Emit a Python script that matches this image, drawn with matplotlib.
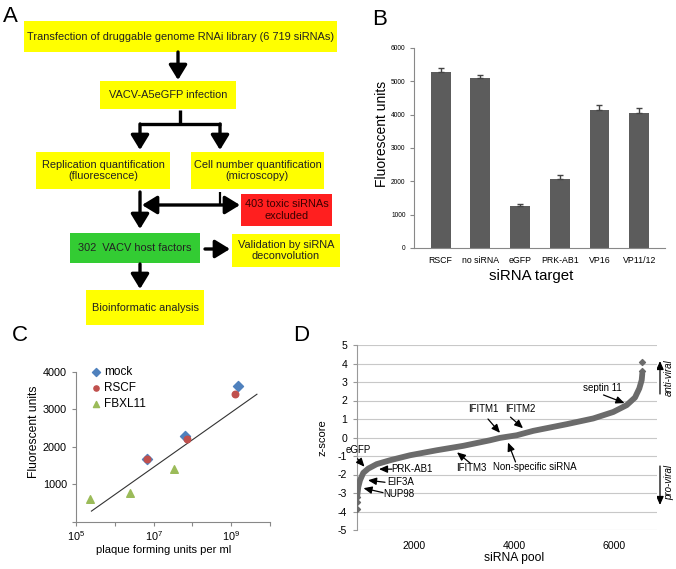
import numpy as np
import matplotlib
matplotlib.use('Agg')
import matplotlib.pyplot as plt
from matplotlib.patches import Rectangle

plt.rcParams['font.family'] = ['Liberation Sans', 'DejaVu Sans']
plt.rcParams['mathtext.fontset'] = 'custom'
plt.rcParams['mathtext.rm'] = 'Liberation Sans'
plt.rcParams['mathtext.it'] = 'Liberation Sans:italic'
plt.rcParams['axes.unicode_minus'] = False

# ---- panel B data ----
b_targets = ['RSCF', 'no siRNA', 'eGFP', 'PRK-AB1', 'VP16', 'VP11/12']
b_values = [5270, 5090, 1260, 2080, 4130, 4040]
b_errors = [140, 110, 70, 120, 150, 150]

# ---- panel C data ----
c_mock_pfu = [6.6e6, 6.6e7, 1.5e9]
c_mock_fu = [1670, 2280, 3610]
c_rscf_pfu = [6.6e6, 7.2e7, 1.25e9]
c_rscf_fu = [1680, 2200, 3400]
c_fbxl_pfu = [2.3e5, 2.45e6, 3.3e7]
c_fbxl_fu = [600, 760, 1420]
c_trend_pfu = [2.5e5, 4.6e9]
c_trend_fu = [290, 3400]

# ---- panel D data ----
d_pool = [866, 886, 920, 986, 1086, 1254, 1520, 1920, 2454, 2986, 3520, 3720,
          4054, 4386, 5054, 5586, 5986, 6254, 6420, 6506, 6554, 6566]
d_z = [-3.12, -2.67, -2.31, -1.91, -1.68, -1.44, -1.23, -0.96, -0.69, -0.45,
       -0.15, -0.02, 0.12, 0.36, 0.72, 1.03, 1.38, 1.75, 2.16, 2.65, 3.1, 3.46]
d_out_pool = [866, 866, 866, 6566, 6566]
d_out_z = [-3.22, -3.46, -3.84, 3.62, 4.06]

fig = plt.figure(figsize=(6.76, 5.69), dpi=100)

# ---- panel A: flow chart in pixel coordinates ----
axA = fig.add_axes([0, 0, 1, 1])
axA.set_xlim(0, 676)
axA.set_ylim(569, 0)
axA.axis('off')

YEL, RED, GRN = '#ffff00', '#ff1f1f', '#33cc33'
boxes = [
    (24, 21, 313, 31, YEL, 'Transfection of druggable genome RNAi library (6 719 siRNAs)'),
    (100, 81, 136, 28, YEL, 'VACV-A5eGFP infection'),
    (36, 152, 134, 37, YEL, 'Replication quantification\n(fluorescence)'),
    (191, 152, 133, 37, YEL, 'Cell number quantification\n(microscopy)'),
    (241, 194, 91, 32, RED, '403 toxic siRNAs\nexcluded'),
    (70, 233, 130, 30, GRN, '302  VACV host factors'),
    (232, 234, 108, 33, YEL, 'Validation by siRNA\ndeconvolution'),
    (86, 290, 118, 35, YEL, 'Bioinformatic analysis'),
]
for x, y, w, h, col, txt in boxes:
    axA.add_patch(Rectangle((x, y), w, h, facecolor=col, edgecolor='none'))
    tc = '#222222' if col != RED else '#3a0000'
    axA.text(x + w / 2, y + h / 2, txt, ha='center', va='center', fontsize=7.9,
             color=tc, linespacing=1.2)

arrow = dict(arrowstyle='-|>,head_length=0.9,head_width=0.55', lw=2.4,
             color='black', shrinkA=0, shrinkB=0)
darrow = dict(arrowstyle='<|-|>,head_length=0.9,head_width=0.55', lw=2.4,
              color='black', shrinkA=0, shrinkB=0)
for (x0, y0), (x1, y1) in [((178, 52), (178, 80)), ((140, 124), (140, 150)),
                           ((220, 124), (220, 150)), ((140, 192), (140, 229)),
                           ((205, 249), (230, 249)), ((140, 264), (140, 289))]:
    axA.annotate('', xy=(x1, y1), xytext=(x0, y0), arrowprops=arrow)
axA.annotate('', xy=(240, 205), xytext=(142, 205), arrowprops=darrow)
axA.plot([180, 180], [110, 124], color='black', lw=2.4, solid_capstyle='butt')
axA.plot([139, 221], [124, 124], color='black', lw=2.4, solid_capstyle='butt')
axA.plot([220, 220], [192, 205], color='black', lw=1.6, solid_capstyle='butt')

for lbl, (x, y) in zip('ABCD', [(3, 6), (372, 9), (12, 325), (293, 325)]):
    axA.text(x, y, lbl, fontsize=16, ha='left', va='top')

# ---- panel B: bars ----
axB = fig.add_axes([414 / 676, 1 - 248 / 569, 251 / 676, 200 / 569])
xb = np.arange(len(b_targets))
axB.bar(xb, b_values, width=0.5, color='#5c5c5c',
        yerr=[np.zeros(len(b_errors)), b_errors],
        error_kw=dict(ecolor='#444444', elinewidth=1, capsize=2.5, capthick=1))
axB.set_xlim(-0.67, 5.65)
axB.set_ylim(0, 6000)
axB.set_yticks(range(0, 6001, 1000))
axB.set_xticks(xb)
axB.set_xticklabels(b_targets, fontsize=6.3)
axB.tick_params(axis='y', labelsize=4.8, length=3, color='#888888', pad=3)
axB.tick_params(axis='x', length=0, pad=6)
for s in ['top', 'right']:
    axB.spines[s].set_visible(False)
for s in ['left', 'bottom']:
    axB.spines[s].set_color('#888888')
axB.set_ylabel('Fluorescent units', fontsize=10)
axB.set_xlabel('siRNA target', fontsize=10.8)
axB.yaxis.set_label_coords(-0.1, 0.57)
axB.xaxis.set_label_coords(0.468, -0.105)

# ---- panel C: scatter, log x ----
axC = fig.add_axes([76 / 676, 1 - 522 / 569, 194 / 676, 150.3 / 569])
axC.set_xscale('log')
axC.plot(c_trend_pfu, c_trend_fu, color='#333333', lw=0.8)
axC.scatter(c_mock_pfu, c_mock_fu, marker='D', s=26, color='#4f81bd', label='mock', zorder=3)
axC.scatter(c_rscf_pfu, c_rscf_fu, marker='o', s=22, color='#c0504d', label='RSCF', zorder=3)
axC.scatter(c_fbxl_pfu, c_fbxl_fu, marker='^', s=30, color='#9bbb59', label='FBXL11', zorder=3)
axC.set_xlim(1e5, 1e10)
axC.set_ylim(0, 4000)
axC.set_xticks([1e5, 1e6, 1e7, 1e8, 1e9, 1e10])
axC.set_xticklabels([r'$10^5$', '', r'$10^7$', '', r'$10^9$', ''])
axC.minorticks_off()
axC.set_yticks([0, 1000, 2000, 3000, 4000])
axC.set_yticklabels(['', '1000', '2000', '3000', '4000'])
axC.tick_params(labelsize=7.8, length=3, color='#888888')
axC.tick_params(axis='x', pad=2)
for s in ['top', 'right']:
    axC.spines[s].set_visible(False)
for s in ['left', 'bottom']:
    axC.spines[s].set_color('#888888')
axC.set_ylabel('Fluorescent units', fontsize=8.7)
axC.set_xlabel('plaque forming units per ml', fontsize=8)
axC.yaxis.set_label_coords(-0.188, 0.6)
axC.xaxis.set_label_coords(0.454, -0.15)
axC.legend(loc='upper left', bbox_to_anchor=(0.04, 1.07), frameon=False,
           fontsize=8.5, handletextpad=0.1, labelspacing=0.35, borderaxespad=0,
           handlelength=1.2, markerscale=0.8)

# ---- panel D: ranked z-scores ----
axD = fig.add_axes([357 / 676, 1 - 530 / 569, 300 / 676, 185 / 569])
axD.plot(d_pool, d_z, color='#6b6b6b', lw=4.2, solid_capstyle='round', zorder=3)
axD.scatter(d_out_pool, d_out_z, marker='D', s=9, color='#6b6b6b', zorder=3)
axD.set_xlim(860, 6860)
axD.set_ylim(-5, 5)
axD.set_yticks(range(-5, 6))
axD.set_xticks([2000, 4000, 6000])
axD.yaxis.grid(True, color='#c8c8c8', lw=0.8)
axD.set_axisbelow(True)
for s in ['top', 'right', 'bottom']:
    axD.spines[s].set_visible(False)
axD.spines['left'].set_color('#999999')
axD.tick_params(axis='y', labelsize=7.6, length=3, color='#999999', pad=4)
axD.tick_params(axis='x', labelsize=7.6, length=0, pad=8)
axD.set_ylabel('z-score', fontsize=8)
axD.set_xlabel('siRNA pool', fontsize=8.7)
axD.yaxis.set_label_coords(-0.1, 0.5)
axD.xaxis.set_label_coords(0.523, -0.118)

small = dict(arrowstyle='-|>,head_length=0.5,head_width=0.22', lw=0.9,
             color='black', shrinkA=0, shrinkB=0)
d_labels = [
    ('septin 11', (5760, 2.66), (5790, 2.3), (6210, 1.86)),
    ('IFITM1', (3380, 1.53), (3480, 1.0), (3720, 0.25)),
    ('IFITM2', (4130, 1.53), (3930, 1.1), (4180, 0.5)),
    ('IFITM3', (3140, -1.66), (3120, -1.38), (2860, -0.8)),
    ('Non-specific siRNA', (4420, -1.61), (4030, -1.32), (3880, -0.27)),
    ('eGFP', (890, -0.66), (870, -1.15), (1010, -1.58)),
    ('PRK-AB1', (1950, -1.71), (1560, -1.71), (1300, -1.71)),
    ('EIF3A', (1730, -2.42), (1420, -2.42), (1080, -2.31)),
    ('NUP98', (1700, -3.05), (1380, -2.98), (990, -2.74)),
]
for txt, tpos, tail, head in d_labels:
    axD.text(tpos[0], tpos[1], txt, fontsize=7, ha='center', va='center',
             clip_on=False, zorder=4)
    axD.annotate('', xy=head, xytext=tail, arrowprops=small, zorder=4)

axA.annotate('', xy=(660, 361), xytext=(660, 394), arrowprops=small)
axA.annotate('', xy=(660, 505), xytext=(660, 466), arrowprops=small)
axA.text(669, 378, 'anti-viral', rotation=90, style='italic', fontsize=7,
         ha='center', va='center')
axA.text(669, 482, 'pro-viral', rotation=90, style='italic', fontsize=7,
         ha='center', va='center')

fig.savefig('out.png', dpi=100)
